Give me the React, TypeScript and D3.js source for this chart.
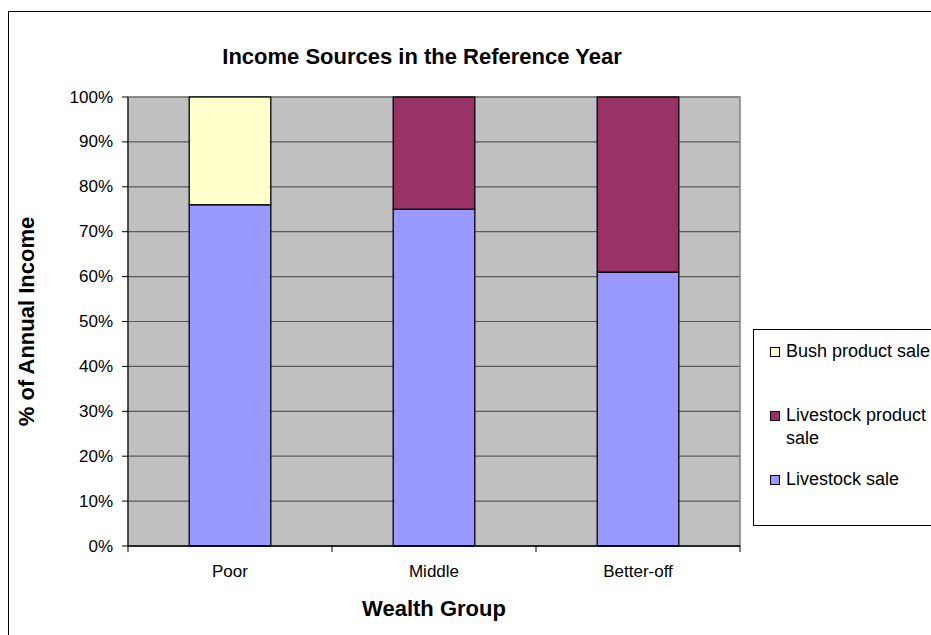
import React from "react";
import * as d3 from "d3";

const categories = ["Poor", "Middle", "Better-off"];
const seriesNames = ["Livestock sale", "Livestock product sale", "Bush product sale"];
const livestockSale = [76, 75, 61];
const livestockProductSale = [0, 25, 39];
const bushProductSale = [24, 0, 0];
const yTicks = [0, 10, 20, 30, 40, 50, 60, 70, 80, 90, 100];
const colors = ["#9999FF", "#993366", "#FFFFCC"];

const FONT = "'Liberation Sans', Arial, sans-serif";

export default function App() {
  const W = 931, H = 635;
  const left = 128, right = 740, top = 97, bottom = 546;
  const x = d3.scaleBand<string>().domain(categories).range([left, right]).padding(0);
  const y = d3.scaleLinear().domain([0, 100]).range([bottom, top]);
  const bw = x.bandwidth() * 0.4;

  const table = categories.map((c, i) => ({
    cat: c,
    s0: livestockSale[i],
    s1: livestockProductSale[i],
    s2: bushProductSale[i],
  }));
  const stacked = d3.stack<any>().keys(["s0", "s1", "s2"])(table);

  const legendItems = [
    { name: ["Bush product sale"], color: colors[2], base: 357 },
    { name: ["Livestock product", "sale"], color: colors[1], base: 421 },
    { name: ["Livestock sale"], color: colors[0], base: 485 },
  ];

  return (
    <svg
      width={W}
      height={H}
      style={{ position: "absolute", left: 0, top: 0, display: "block" }}
      fontFamily={FONT}
    >
      <rect x={0} y={0} width={W} height={H} fill="#fff" />
      <rect x={8.5} y={11.5} width={940} height={640} fill="none" stroke="#000" strokeWidth={1} />
      <text x={422} y={64} textAnchor="middle" fontSize={22} fontWeight="bold" fill="#000">
        Income Sources in the Reference Year
      </text>
      <rect x={left} y={top} width={right - left} height={bottom - top} fill="#C0C0C0" />
      {yTicks.filter((t) => t > 0).map((t) => (
        <line key={t} x1={left} x2={right} y1={y(t)} y2={y(t)} stroke="#5a5a5a" strokeWidth={1.2} />
      ))}
      <rect x={left} y={top} width={right - left} height={bottom - top} fill="none" stroke="#808080" strokeWidth={1.5} />
      {stacked.map((layer, li) =>
        layer.map((d, i) =>
          d[1] - d[0] > 0 ? (
            <rect
              key={`${li}-${i}`}
              x={(x(categories[i]) as number) + (x.bandwidth() - bw) / 2}
              y={y(d[1])}
              width={bw}
              height={y(d[0]) - y(d[1])}
              fill={colors[li]}
              stroke="#000"
              strokeWidth={1.3}
            />
          ) : null
        )
      )}
      {/* y axis */}
      <line x1={left} x2={left} y1={top} y2={bottom} stroke="#000" strokeWidth={1} />
      {yTicks.map((t) => (
        <g key={t}>
          <line x1={left - 6} x2={left} y1={y(t)} y2={y(t)} stroke="#000" />
          <text x={113} y={y(t) + 5.5} textAnchor="end" fontSize={17} fill="#000">
            {t}%
          </text>
        </g>
      ))}
      {/* x axis */}
      <line x1={left} x2={right} y1={bottom} y2={bottom} stroke="#000" strokeWidth={1.5} />
      {[...categories.map((c) => x(c) as number), right].map((p, i) => (
        <line key={i} x1={p} x2={p} y1={bottom} y2={bottom + 6} stroke="#000" />
      ))}
      {categories.map((c) => (
        <text
          key={c}
          x={(x(c) as number) + x.bandwidth() / 2}
          y={577}
          textAnchor="middle"
          fontSize={17}
          fill="#000"
        >
          {c}
        </text>
      ))}
      <text x={434} y={616} textAnchor="middle" fontSize={22} fontWeight="bold" fill="#000">
        Wealth Group
      </text>
      <text
        transform={`translate(34, ${(top + bottom) / 2}) rotate(-90)`}
        textAnchor="middle"
        fontSize={22}
        fontWeight="bold"
        fill="#000"
      >
        % of Annual Income
      </text>
      {/* legend */}
      <rect x={753.5} y={329.5} width={200} height={196} fill="#fff" stroke="#000" strokeWidth={1} />
      {legendItems.map((it) => (
        <g key={it.name[0]}>
          <rect x={770.5} y={it.base - 9.5} width={9} height={9} fill={it.color} stroke="#000" strokeWidth={1} />
          {it.name.map((line, k) => (
            <text key={k} x={786} y={it.base + k * 23} fontSize={18} fill="#000">
              {line}
            </text>
          ))}
        </g>
      ))}
    </svg>
  );
}
